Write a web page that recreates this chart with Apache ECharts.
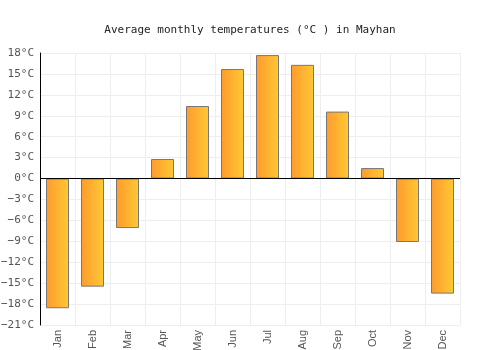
<!DOCTYPE html>
<html>
<head>
<meta charset="utf-8">
<script src="https://cdn.jsdelivr.net/npm/echarts@6/dist/echarts.min.js"></script>
<style>
  html, body { margin: 0; padding: 0; background: #fff; }
  #chart { width: 500px; height: 350px; }
</style>
</head>
<body>
<div id="chart"></div>
<script>
const months = ['Jan', 'Feb', 'Mar', 'Apr', 'May', 'Jun', 'Jul', 'Aug', 'Sep', 'Oct', 'Nov', 'Dec']
const temps = [-18.6, -15.5, -7.1, 2.8, 10.4, 15.7, 17.7, 16.3, 9.6, 1.5, -9.1, -16.5]
const yMin = -21
const yMax = 18
const yStep = 3

const mono = '"DejaVu Sans Mono", monospace'
const sans = '"Liberation Sans", Arial, sans-serif'
const chart = echarts.init(document.getElementById('chart'))

chart.setOption({
  animation: false,
  backgroundColor: '#fff',
  title: {
    text: 'Average monthly temperatures (°C ) in Mayhan',
    left: 'center',
    top: 20,
    textStyle: { fontFamily: mono, fontSize: 11, fontWeight: 'normal', color: '#222' },
  },
  grid: { left: 40, right: 40, top: 53, bottom: 25, containLabel: false, outerBoundsMode: 'none' },
  xAxis: {
    type: 'category',
    data: months,
    axisLine: { show: false, onZero: false },
    axisTick: { show: false },
    axisLabel: {
      rotate: 90,
      interval: 0,
      fontFamily: sans,
      fontSize: 11,
      color: '#555',
      margin: 5,
    },
    splitLine: { show: true, interval: 0, lineStyle: { color: '#eee' } },
  },
  yAxis: {
    type: 'value',
    min: yMin,
    max: yMax,
    interval: yStep,
    axisLine: { show: true, lineStyle: { color: '#000' } },
    axisTick: { show: false },
    axisLabel: {
      fontFamily: mono,
      fontSize: 11,
      color: '#555',
      margin: 6,
      formatter: v => String(v).replace('-', '\u2212') + '°C',
    },
    splitLine: { lineStyle: { color: '#eee' } },
  },
  series: [
    {
      type: 'bar',
      data: temps,
      barWidth: 23,
      itemStyle: {
        color: new echarts.graphic.LinearGradient(0, 0, 1, 0, [
          { offset: 0, color: '#ff9a2e' },
          { offset: 1, color: '#ffc934' },
        ]),
        borderColor: '#777',
        borderWidth: 1,
      },
      markLine: {
        silent: true,
        symbol: 'none',
        label: { show: false },
        lineStyle: { color: '#000', type: 'solid', width: 1 },
        data: [{ yAxis: 0 }],
      },
    },
  ],
})
</script>
</body>
</html>
